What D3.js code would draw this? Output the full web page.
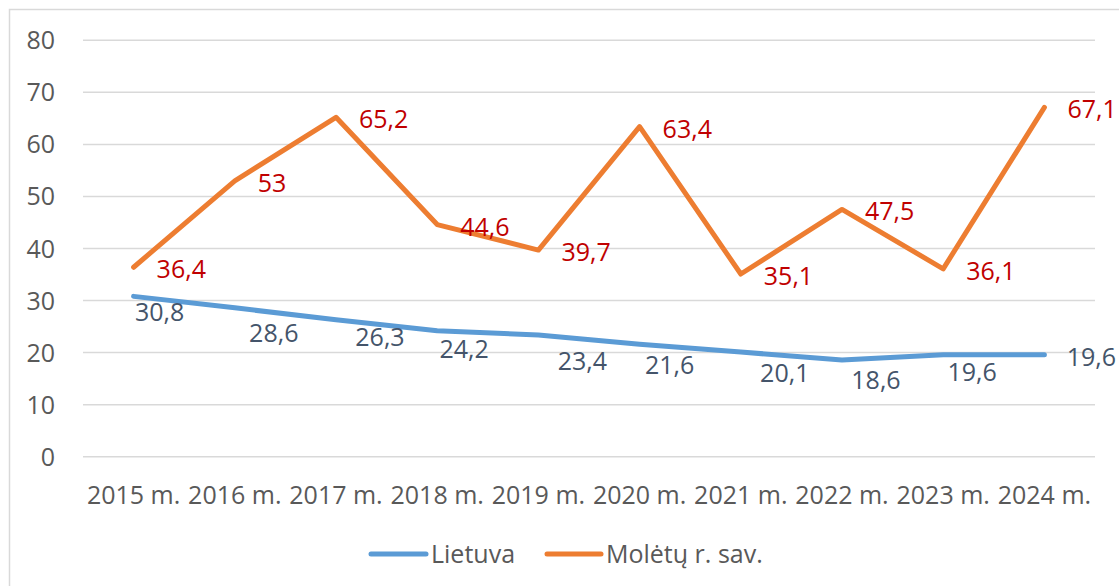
<!DOCTYPE html>
<html>
<head>
<meta charset="utf-8">
<script src="https://cdn.jsdelivr.net/npm/d3@7"></script>
<style>
  html, body { margin: 0; padding: 0; background: #fff; }
  svg { display: block; font-family: "Open Sans", sans-serif; }
</style>
</head>
<body>
<svg id="chart" width="1119" height="586"></svg>
<script>
const categories = ["2015 m.", "2016 m.", "2017 m.", "2018 m.", "2019 m.", "2020 m.", "2021 m.", "2022 m.", "2023 m.", "2024 m."];
const lietuva = [30.8, 28.6, 26.3, 24.2, 23.4, 21.6, 20.1, 18.6, 19.6, 19.6];
const moletai = [36.4, 53, 65.2, 44.6, 39.7, 63.4, 35.1, 47.5, 36.1, 67.1];
const yTicks = [0, 10, 20, 30, 40, 50, 60, 70, 80];
const seriesNames = ["Lietuva", "Molėtų r. sav."];

// label layout (offsets of label centre from point, px) for the Lietuva series
const lietuvaLabelOffsets = [[26,16],[39,25],[44,17],[27,18],[44,26],[30,21],[44,21],[34,20],[29,17],[47,2]];

const svg = d3.select("#chart");
const fontSize = 25;
const axisColor = "#595959";
const gridColor = "#D9D9D9";
const blue = "#5B9BD5", orange = "#ED7D31";
const blueLabel = "#44546A", redLabel = "#C00000";

// chart border
svg.append("rect").attr("x", 9.5).attr("y", 9.5).attr("width", 1300).attr("height", 800)
  .attr("fill", "none").attr("stroke", gridColor).attr("stroke-width", 1.5);

const x = d3.scaleBand().domain(categories).range([83, 1095]).padding(0);
const y = d3.scaleLinear().domain([0, 80]).range([456.7, 40.3]);
const cx = c => x(c) + x.bandwidth() / 2;

// gridlines
svg.append("g").selectAll("line").data(yTicks).join("line")
  .attr("x1", 83).attr("x2", 1095)
  .attr("y1", d => y(d)).attr("y2", d => y(d))
  .attr("stroke", gridColor).attr("stroke-width", 1.5);

// y axis labels
svg.append("g").selectAll("text").data(yTicks).join("text")
  .attr("x", 55).attr("y", d => y(d) + 9)
  .attr("text-anchor", "end").attr("fill", axisColor)
  .attr("font-size", fontSize).text(d => d);

// x axis labels
svg.append("g").selectAll("text").data(categories).join("text")
  .attr("x", d => cx(d)).attr("y", 504)
  .attr("text-anchor", "middle").attr("fill", axisColor)
  .attr("font-size", fontSize).text(d => d);

const line = d3.line().x((d, i) => cx(categories[i])).y(d => y(d));

svg.append("path").datum(lietuva).attr("d", line)
  .attr("fill", "none").attr("stroke", blue).attr("stroke-width", 5)
  .attr("stroke-linecap", "round").attr("stroke-linejoin", "round");

svg.append("path").datum(moletai).attr("d", line)
  .attr("fill", "none").attr("stroke", orange).attr("stroke-width", 5)
  .attr("stroke-linecap", "round").attr("stroke-linejoin", "round");

const fmt = v => String(v).replace(".", ",");

// Molėtų labels: right of point
svg.append("g").selectAll("text").data(moletai).join("text")
  .attr("x", (d, i) => cx(categories[i]) + 23)
  .attr("y", (d, i) => y(d) + 2 + 9)
  .attr("fill", redLabel).attr("font-size", fontSize).text(d => fmt(d));

// Lietuva labels
svg.append("g").selectAll("text").data(lietuva).join("text")
  .attr("x", (d, i) => cx(categories[i]) + lietuvaLabelOffsets[i][0])
  .attr("y", (d, i) => y(d) + lietuvaLabelOffsets[i][1] + 9)
  .attr("text-anchor", "middle")
  .attr("fill", blueLabel).attr("font-size", fontSize).text(d => fmt(d));

// legend
const legend = svg.append("g");
const legendItems = [
  { name: seriesNames[0], color: blue, x1: 371, x2: 426, tx: 431 },
  { name: seriesNames[1], color: orange, x1: 547, x2: 601, tx: 606 }
];
legend.selectAll("line").data(legendItems).join("line")
  .attr("x1", d => d.x1).attr("x2", d => d.x2).attr("y1", 554).attr("y2", 554)
  .attr("stroke", d => d.color).attr("stroke-width", 5).attr("stroke-linecap", "round");
legend.selectAll("text").data(legendItems).join("text")
  .attr("x", d => d.tx).attr("y", 563.3)
  .attr("fill", axisColor).attr("font-size", fontSize).text(d => d.name);
</script>
</body>
</html>
